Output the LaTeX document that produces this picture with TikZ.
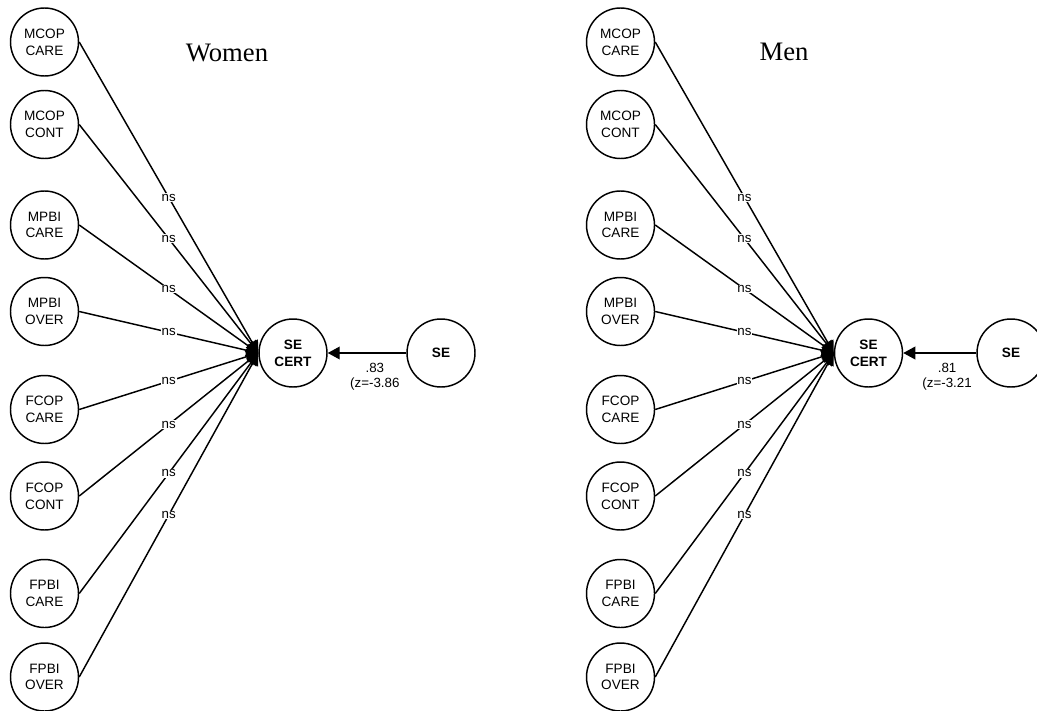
\documentclass[tikz,border=0pt]{standalone}
\usepackage{fontspec}
\setmainfont{Liberation Serif}
\setsansfont{Liberation Sans}
\usetikzlibrary{arrows.meta,positioning}

\begin{document}
\begin{tikzpicture}[x=0.75pt, y=-0.75pt, line width=1.1pt]
  \tikzstyle{var} = [circle, draw, minimum size=51pt, inner sep=0pt, align=center, font=\sffamily\fontsize{10.2}{12.5}\selectfont]
  \tikzstyle{outvar} = [var, font=\sffamily\bfseries\fontsize{10.2}{12.5}\selectfont]
  \tikzstyle{arrow} = [draw, -{Triangle[length=9pt, width=9.5pt]}]
  \tikzstyle{ns} = [fill=white, inner sep=0.6pt, font=\sffamily\fontsize{10}{11}\selectfont]
  \tikzstyle{coef} = [below=6pt, align=center, inner sep=1pt, font=\sffamily\fontsize{10}{11.5}\selectfont]
  \tikzstyle{group} = [font=\fontsize{20}{24}\selectfont]

  \useasboundingbox (0,0) rectangle (1037,710);

  % Women
  \node[group] (women) at (227,53) {Women};
  \node[var] (wmcopcare) at (44.5,42) {MCOP\\CARE};
  \node[var] (wmcopcont) at (44.5,124.5) {MCOP\\CONT};
  \node[var] (wmpbicare) at (44.5,225) {MPBI\\CARE};
  \node[var] (wmpbiover) at (44.5,311.5) {MPBI\\OVER};
  \node[var] (wfcopcare) at (44.5,409.5) {FCOP\\CARE};
  \node[var] (wfcopcont) at (44.5,496) {FCOP\\CONT};
  \node[var] (wfpbicare) at (44.5,593.5) {FPBI\\CARE};
  \node[var] (wfpbiover) at (44.5,677) {FPBI\\OVER};
  \node[outvar] (wcert) at (293,353) {SE\\CERT};
  \node[outvar] (wse) at (441,353) {SE};

  \path[arrow] (wmcopcare.east) -- node[ns] {ns} (wcert.west);
  \path[arrow] (wmcopcont.east) -- node[ns] {ns} (wcert.west);
  \path[arrow] (wmpbicare.east) -- node[ns] {ns} (wcert.west);
  \path[arrow] (wmpbiover.east) -- node[ns] {ns} (wcert.west);
  \path[arrow] (wfcopcare.east) -- node[ns] {ns} (wcert.west);
  \path[arrow] (wfcopcont.east) -- node[ns] {ns} (wcert.west);
  \path[arrow] (wfpbicare.east) -- node[ns] {ns} (wcert.west);
  \path[arrow] (wfpbiover.east) -- node[ns] {ns} (wcert.west);
  \path[arrow] (wse) -- node[coef, pos=0.4] {.83\\(z=-3.86} (wcert);

  % Men
  \node[group] (men) at (784,52) {Men};
  \node[var] (mmcopcare) at (620.5,42) {MCOP\\CARE};
  \node[var] (mmcopcont) at (620.5,124.5) {MCOP\\CONT};
  \node[var] (mmpbicare) at (620.5,225) {MPBI\\CARE};
  \node[var] (mmpbiover) at (620.5,311.5) {MPBI\\OVER};
  \node[var] (mfcopcare) at (620.5,409.5) {FCOP\\CARE};
  \node[var] (mfcopcont) at (620.5,496) {FCOP\\CONT};
  \node[var] (mfpbicare) at (620.5,593.5) {FPBI\\CARE};
  \node[var] (mfpbiover) at (620.5,677) {FPBI\\OVER};
  \node[outvar] (mcert) at (868.5,353) {SE\\CERT};
  \node[outvar] (mse) at (1011,353) {SE};

  \path[arrow] (mmcopcare.east) -- node[ns] {ns} (mcert.west);
  \path[arrow] (mmcopcont.east) -- node[ns] {ns} (mcert.west);
  \path[arrow] (mmpbicare.east) -- node[ns] {ns} (mcert.west);
  \path[arrow] (mmpbiover.east) -- node[ns] {ns} (mcert.west);
  \path[arrow] (mfcopcare.east) -- node[ns] {ns} (mcert.west);
  \path[arrow] (mfcopcont.east) -- node[ns] {ns} (mcert.west);
  \path[arrow] (mfpbicare.east) -- node[ns] {ns} (mcert.west);
  \path[arrow] (mfpbiover.east) -- node[ns] {ns} (mcert.west);
  \path[arrow] (mse) -- node[coef, pos=0.4] {.81\\(z=-3.21} (mcert);

\end{tikzpicture}
\end{document}
